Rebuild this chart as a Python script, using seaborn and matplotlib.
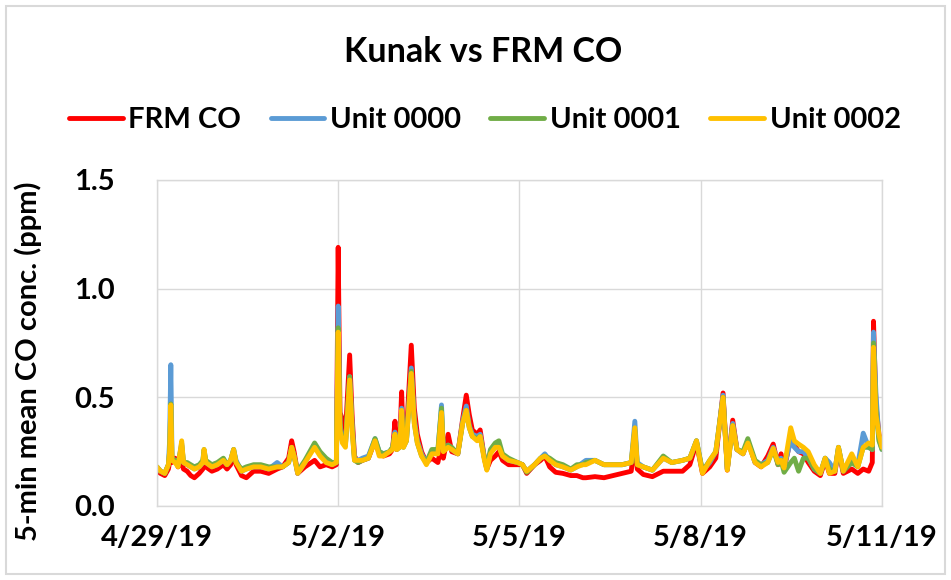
import pandas as pd
import matplotlib.pyplot as plt
from matplotlib.patches import Rectangle
import seaborn as sns

# Days since 4/29/19 00:00 (ppm)
days = [0.00, 0.06, 0.13, 0.19, 0.21, 0.23, 0.25, 0.30, 0.35, 0.41, 0.44, 0.50, 0.56, 0.62, 0.70,
        0.76, 0.78, 0.81, 0.91, 1.00, 1.10, 1.16, 1.22, 1.27, 1.31, 1.40, 1.48, 1.60, 1.72, 1.85,
        1.99, 2.08, 2.18, 2.23, 2.27, 2.33, 2.45, 2.61, 2.70, 2.80, 2.90, 2.97, 3.00, 3.03, 3.07,
        3.12, 3.19, 3.23, 3.27, 3.33, 3.40, 3.50, 3.61, 3.68, 3.75, 3.85, 3.90, 3.94, 3.97, 4.02,
        4.05, 4.08, 4.13, 4.21, 4.26, 4.31, 4.38, 4.46, 4.55, 4.65, 4.71, 4.74, 4.82, 4.88, 4.98,
        5.06, 5.12, 5.17, 5.22, 5.30, 5.35, 5.42, 5.46, 5.52, 5.60, 5.66, 5.72, 5.82, 5.97, 6.05,
        6.12, 6.25, 6.35, 6.42, 6.50, 6.60, 6.72, 6.85, 6.95, 7.05, 7.10, 7.25, 7.40, 7.55, 7.70,
        7.85, 7.91, 7.95, 8.05, 8.20, 8.38, 8.52, 8.70, 8.82, 8.93, 9.03, 9.15, 9.25, 9.37, 9.44,
        9.53, 9.60, 9.70, 9.78, 9.90, 10.00, 10.11, 10.20, 10.28, 10.33, 10.38, 10.49, 10.55, 10.62, 10.70,
        10.78, 10.88, 10.98, 11.06, 11.13, 11.22, 11.28, 11.36, 11.50, 11.60, 11.69, 11.78, 11.84, 11.86, 11.90,
        11.95, 12.00]

frm_co = [0.16, 0.15, 0.14, 0.17, 0.20, 0.24, 0.20, 0.22, 0.18, 0.20, 0.17, 0.16, 0.14, 0.13, 0.15,
          0.17, 0.21, 0.18, 0.16, 0.17, 0.19, 0.17, 0.19, 0.24, 0.19, 0.14, 0.13, 0.16, 0.16, 0.15,
          0.17, 0.18, 0.22, 0.30, 0.25, 0.15, 0.18, 0.21, 0.18, 0.19, 0.18, 0.19, 1.19, 0.43, 0.40,
          0.33, 0.695, 0.42, 0.23, 0.20, 0.21, 0.22, 0.30, 0.24, 0.23, 0.24, 0.26, 0.39, 0.26, 0.30,
          0.525, 0.28, 0.33, 0.74, 0.45, 0.33, 0.25, 0.20, 0.22, 0.20, 0.28, 0.22, 0.33, 0.25, 0.24,
          0.40, 0.51, 0.42, 0.35, 0.33, 0.35, 0.22, 0.17, 0.21, 0.23, 0.25, 0.21, 0.19, 0.19, 0.19,
          0.15, 0.19, 0.21, 0.23, 0.18, 0.155, 0.15, 0.14, 0.14, 0.13, 0.13, 0.135, 0.13, 0.14, 0.15,
          0.16, 0.30, 0.17, 0.145, 0.135, 0.16, 0.16, 0.16, 0.19, 0.29, 0.15, 0.18, 0.22, 0.52, 0.165,
          0.395, 0.26, 0.24, 0.30, 0.20, 0.18, 0.23, 0.285, 0.19, 0.24, 0.17, 0.31, 0.28, 0.25, 0.24,
          0.20, 0.16, 0.14, 0.21, 0.15, 0.15, 0.26, 0.15, 0.17, 0.15, 0.17, 0.16, 0.20, 0.85, 0.47,
          0.33, 0.27]

unit_0000 = [0.18, 0.16, 0.15, 0.19, 0.30, 0.65, 0.22, 0.21, 0.19, 0.29, 0.20, 0.19, 0.18, 0.17, 0.18,
             0.20, 0.25, 0.20, 0.18, 0.19, 0.21, 0.19, 0.21, 0.26, 0.21, 0.16, 0.17, 0.18, 0.18, 0.17,
             0.20, 0.18, 0.20, 0.27, 0.23, 0.15, 0.20, 0.28, 0.24, 0.21, 0.19, 0.20, 0.92, 0.38, 0.30,
             0.28, 0.595, 0.38, 0.22, 0.21, 0.22, 0.23, 0.31, 0.25, 0.24, 0.25, 0.27, 0.34, 0.27, 0.28,
             0.45, 0.28, 0.30, 0.635, 0.40, 0.30, 0.24, 0.20, 0.25, 0.25, 0.465, 0.26, 0.28, 0.26, 0.24,
             0.39, 0.46, 0.37, 0.33, 0.32, 0.33, 0.22, 0.17, 0.25, 0.27, 0.28, 0.23, 0.21, 0.20, 0.19,
             0.16, 0.19, 0.22, 0.24, 0.21, 0.19, 0.18, 0.165, 0.18, 0.20, 0.21, 0.21, 0.19, 0.19, 0.19,
             0.20, 0.39, 0.20, 0.18, 0.165, 0.22, 0.20, 0.21, 0.22, 0.30, 0.16, 0.20, 0.25, 0.51, 0.17,
             0.38, 0.26, 0.24, 0.30, 0.20, 0.19, 0.21, 0.27, 0.20, 0.22, 0.18, 0.30, 0.27, 0.25, 0.25,
             0.22, 0.17, 0.15, 0.22, 0.20, 0.16, 0.27, 0.16, 0.21, 0.19, 0.335, 0.27, 0.26, 0.80, 0.52,
             0.31, 0.26]

unit_0001 = [0.18, 0.16, 0.15, 0.19, 0.25, 0.47, 0.21, 0.21, 0.19, 0.28, 0.20, 0.20, 0.19, 0.18, 0.19,
             0.21, 0.26, 0.21, 0.19, 0.20, 0.22, 0.19, 0.21, 0.26, 0.20, 0.17, 0.18, 0.19, 0.19, 0.18,
             0.18, 0.18, 0.20, 0.27, 0.23, 0.16, 0.21, 0.29, 0.25, 0.22, 0.20, 0.20, 0.82, 0.36, 0.30,
             0.28, 0.595, 0.36, 0.21, 0.20, 0.21, 0.22, 0.31, 0.25, 0.24, 0.25, 0.27, 0.33, 0.26, 0.27,
             0.43, 0.27, 0.30, 0.62, 0.38, 0.29, 0.23, 0.20, 0.26, 0.26, 0.45, 0.26, 0.28, 0.27, 0.24,
             0.38, 0.44, 0.36, 0.32, 0.31, 0.32, 0.22, 0.18, 0.26, 0.29, 0.30, 0.24, 0.22, 0.20, 0.19,
             0.155, 0.19, 0.22, 0.23, 0.22, 0.20, 0.19, 0.17, 0.19, 0.19, 0.20, 0.21, 0.19, 0.19, 0.19,
             0.20, 0.35, 0.19, 0.18, 0.165, 0.23, 0.20, 0.21, 0.22, 0.30, 0.16, 0.21, 0.25, 0.50, 0.17,
             0.37, 0.26, 0.25, 0.31, 0.21, 0.19, 0.20, 0.26, 0.19, 0.21, 0.155, 0.20, 0.22, 0.16, 0.22,
             0.22, 0.17, 0.15, 0.22, 0.17, 0.16, 0.27, 0.16, 0.20, 0.18, 0.27, 0.27, 0.26, 0.75, 0.45,
             0.30, 0.26]

unit_0002 = [0.18, 0.16, 0.15, 0.19, 0.25, 0.465, 0.21, 0.20, 0.18, 0.30, 0.20, 0.19, 0.18, 0.17, 0.18,
             0.20, 0.26, 0.20, 0.18, 0.19, 0.21, 0.19, 0.21, 0.26, 0.20, 0.16, 0.17, 0.18, 0.18, 0.17,
             0.18, 0.18, 0.20, 0.27, 0.23, 0.15, 0.20, 0.27, 0.23, 0.20, 0.19, 0.20, 0.80, 0.35, 0.29,
             0.27, 0.58, 0.35, 0.21, 0.21, 0.21, 0.22, 0.30, 0.23, 0.23, 0.25, 0.26, 0.33, 0.26, 0.27,
             0.44, 0.27, 0.30, 0.61, 0.38, 0.29, 0.23, 0.19, 0.24, 0.24, 0.43, 0.25, 0.27, 0.26, 0.24,
             0.38, 0.44, 0.36, 0.32, 0.30, 0.32, 0.21, 0.165, 0.24, 0.27, 0.27, 0.23, 0.21, 0.20, 0.19,
             0.16, 0.19, 0.22, 0.23, 0.21, 0.19, 0.18, 0.165, 0.18, 0.19, 0.19, 0.21, 0.19, 0.19, 0.19,
             0.20, 0.36, 0.19, 0.18, 0.165, 0.22, 0.20, 0.21, 0.22, 0.30, 0.15, 0.21, 0.25, 0.50, 0.165,
             0.37, 0.26, 0.24, 0.29, 0.20, 0.18, 0.20, 0.265, 0.20, 0.21, 0.175, 0.36, 0.30, 0.285, 0.27,
             0.25, 0.19, 0.15, 0.22, 0.15, 0.16, 0.27, 0.16, 0.24, 0.18, 0.27, 0.29, 0.28, 0.73, 0.42,
             0.33, 0.27]

series_names = ["FRM CO", "Unit 0000", "Unit 0001", "Unit 0002"]
series_colors = ["#FF0000", "#5B9BD5", "#70AD47", "#FFC000"]
tick_labels = ["4/29/19", "5/2/19", "5/5/19", "5/8/19", "5/11/19"]
y_ticks = [0.0, 0.5, 1.0, 1.5]

start = pd.Timestamp("2019-04-29")
times = start + pd.to_timedelta(days, unit="D")

df = pd.DataFrame({"time": times, "FRM CO": frm_co, "Unit 0000": unit_0000,
                   "Unit 0001": unit_0001, "Unit 0002": unit_0002})
long_df = df.melt(id_vars="time", var_name="series", value_name="co")

sns.set_style("white")
plt.rcParams['font.family'] = ['Lato', 'DejaVu Sans']
plt.rcParams['text.color'] = 'black'
plt.rcParams['axes.labelcolor'] = 'black'
plt.rcParams['xtick.color'] = 'black'
plt.rcParams['ytick.color'] = 'black'

fig = plt.figure(figsize=(9.51, 5.8), dpi=100)
ax = fig.add_axes([0.165, 0.1276, 0.7624, 0.5621])

sns.lineplot(data=long_df, x="time", y="co", hue="series", hue_order=series_names,
             palette=series_colors, linewidth=3.5, ax=ax, legend=False)

# axes, grid
tick_pos = [start + pd.Timedelta(days=3 * i) for i in range(len(tick_labels))]
ax.set_xlim(tick_pos[0], tick_pos[-1])
ax.set_ylim(0, 1.5)
ax.set_xticks(tick_pos)
ax.set_xticklabels(tick_labels, fontsize=21, fontweight="bold")
ax.set_yticks(y_ticks)
ax.set_yticklabels([f"{v:.1f}" for v in y_ticks], fontsize=21, fontweight="bold")
ax.tick_params(axis="both", length=0)
ax.tick_params(axis="y", pad=30)
ax.tick_params(axis="x", pad=14)
ax.grid(True, color="#D9D9D9", linewidth=1)
ax.set_axisbelow(True)
for s in ax.spines.values():
    s.set_color("#D9D9D9")
    s.set_linewidth(1)
ax.set_xlabel("")
ax.set_ylabel("5-min mean CO conc. (ppm)", fontsize=21, fontweight="bold")
ax.yaxis.set_label_coords(-0.158, 0.445)

# title and legend
fig.text(0.508, 0.91, "Kunak vs FRM CO", ha="center", va="center", fontsize=24.5, fontweight="bold")
handles = [plt.Line2D([0], [0], color=c, linewidth=3.5) for c in series_colors]
fig.legend(handles, series_names, loc="center", bbox_to_anchor=(0.51, 0.793), ncol=4,
           frameon=False, prop={"size": 21, "weight": "bold"}, handlelength=1.85,
           handletextpad=0.2, columnspacing=1.0)

# chart border
fig.patches.append(Rectangle((0.006, 0.01), 0.988, 0.98, transform=fig.transFigure,
                             fill=False, edgecolor="#D9D9D9", linewidth=1.5))

fig.savefig("out.png", dpi=100)
